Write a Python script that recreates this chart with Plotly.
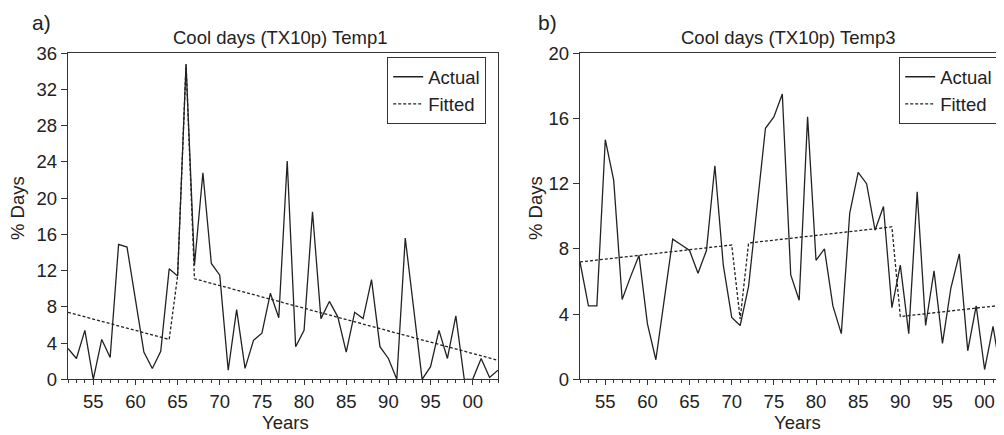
import plotly.graph_objects as go

years = list(range(1952, 2004))

# panel a) Temp1
actual_t1 = [3.4, 2.3, 5.4, 0.0, 4.4, 2.4, 14.9, 14.6, 8.8, 3.0,
             1.2, 3.1, 12.2, 11.4, 34.8, 12.6, 22.8, 12.8, 11.5, 1.0,
             7.7, 1.2, 4.3, 5.1, 9.5, 6.8, 24.1, 3.6, 5.4, 18.5,
             6.7, 8.6, 6.9, 3.0, 7.4, 6.7, 11.0, 3.6, 2.3, 0.0,
             15.6, 7.6, 0.0, 1.4, 5.4, 2.3, 7.0, 0.0, 0.0, 2.3,
             0.2, 1.0]
fitted_t1 = [7.40, 7.15, 6.90, 6.65, 6.40, 6.15, 5.90, 5.65, 5.40, 5.15,
             4.90, 4.65, 4.40, 11.40, 34.80, 11.10, 10.85, 10.60, 10.35, 10.10,
             9.85, 9.60, 9.35, 9.10, 8.85, 8.60, 8.35, 8.10, 7.85, 7.60,
             7.35, 7.10, 6.85, 6.60, 6.35, 6.10, 5.85, 5.60, 5.35, 5.10,
             4.85, 4.60, 4.35, 4.10, 3.85, 3.60, 3.35, 3.10, 2.85, 2.60,
             2.35, 2.10]

# panel b) Temp3
actual_t3 = [7.2, 4.5, 4.5, 14.7, 12.2, 4.9, 6.3, 7.6, 3.4, 1.2,
             4.9, 8.6, 8.25, 7.9, 6.5, 7.9, 13.1, 7.0, 3.8, 3.3,
             5.7, 10.6, 15.4, 16.1, 17.5, 6.4, 4.85, 16.1, 7.3, 8.0,
             4.5, 2.8, 10.2, 12.7, 12.0, 9.15, 10.6, 4.4, 7.0, 2.8,
             11.5, 3.3, 6.65, 2.2, 5.6, 7.7, 1.75, 4.5, 0.6, 3.25,
             0.1, 1.5]
fitted_t3 = [7.20, 7.26, 7.32, 7.37, 7.43, 7.49, 7.55, 7.61, 7.66, 7.72,
             7.78, 7.84, 7.90, 7.95, 8.01, 8.07, 8.13, 8.19, 8.24, 3.70,
             8.36, 8.42, 8.48, 8.53, 8.59, 8.65, 8.71, 8.77, 8.82, 8.88,
             8.94, 9.00, 9.06, 9.11, 9.17, 9.23, 9.29, 9.35, 3.85, 3.91,
             3.97, 4.02, 4.08, 4.14, 4.20, 4.26, 4.31, 4.37, 4.43, 4.49,
             4.55, 4.60]

tick_years = [1955, 1960, 1965, 1970, 1975, 1980, 1985, 1990, 1995, 2000]
tick_text = ["55", "60", "65", "70", "75", "80", "85", "90", "95", "00"]
yticks_a = [0, 4, 8, 12, 16, 20, 24, 28, 32, 36]
yticks_b = [0, 4, 8, 12, 16, 20]

# the page body has an 8px margin, so the figure is drawn 8px in from the corner
OFF = 8
W, H = 1004 - OFF, 435 - OFF
FONT = "Liberation Sans, Arial, sans-serif"
FS = 18.5
INK = "#222222"
AX = "#333333"

def px_x(p):
    return (p - OFF) / W

def px_y(p):
    return 1 - (p - OFF) / H

fig = go.Figure()

line_kw = dict(color=INK, width=1.3)
fit_kw = dict(color=INK, width=1.3, dash="3px,2px")

fig.add_trace(go.Scatter(x=years, y=actual_t1, mode="lines", name="Actual",
                         line=line_kw, xaxis="x", yaxis="y", legend="legend"))
fig.add_trace(go.Scatter(x=years, y=fitted_t1, mode="lines", name="Fitted",
                         line=fit_kw, xaxis="x", yaxis="y", legend="legend"))
fig.add_trace(go.Scatter(x=years, y=actual_t3, mode="lines", name="Actual",
                         line=line_kw, xaxis="x2", yaxis="y2", legend="legend2"))
fig.add_trace(go.Scatter(x=years, y=fitted_t3, mode="lines", name="Fitted",
                         line=fit_kw, xaxis="x2", yaxis="y2", legend="legend2"))

y_dom = [px_y(379.3), px_y(53.3)]

def xaxis(domain, rng, anchor):
    return dict(domain=domain, range=rng, anchor=anchor, automargin=False,
                showgrid=False, zeroline=False,
                showline=True, linecolor=AX, linewidth=1.3, mirror=True,
                ticks="outside", ticklen=5, tickwidth=1.2, tickcolor=AX,
                tickmode="array", tickvals=tick_years, ticktext=tick_text,
                tickfont=dict(size=FS, color=INK, family=FONT),
                minor=dict(tickmode="array", tickvals=years, ticks="outside",
                           ticklen=3, tickwidth=1.1, tickcolor=AX))

def yaxis(anchor, rng, vals, mirror):
    return dict(domain=y_dom, range=rng, anchor=anchor, automargin=False,
                showgrid=False, zeroline=False, showline=True, linecolor=AX,
                linewidth=1.3, mirror=mirror, ticks="outside", ticklen=6,
                tickwidth=1.2, tickcolor=AX, tickmode="array", tickvals=vals,
                tickfont=dict(size=FS, color=INK, family=FONT))

legend_kw = dict(bgcolor="white", bordercolor=AX, borderwidth=1.2,
                 font=dict(size=FS, color=INK, family=FONT),
                 xanchor="right", yanchor="top", yref="paper", xref="paper",
                 tracegroupgap=0, itemwidth=30)

fig.update_layout(
    width=W, height=H,
    margin=dict(l=0, r=0, t=0, b=0, autoexpand=False),
    paper_bgcolor="white", plot_bgcolor="white",
    font=dict(family=FONT, color=INK, size=FS),
    xaxis=xaxis([px_x(68), px_x(498)], [1952, 2003], "y"),
    yaxis=yaxis("x", [0, 36], yticks_a, True),
    xaxis2=xaxis([px_x(580), 1.0], [1952, 2002.3], "y2"),
    yaxis2=yaxis("x2", [0, 20], yticks_b, False),
    legend=dict(x=px_x(486), y=px_y(57), **legend_kw),
    legend2=dict(x=px_x(998), y=px_y(57), **legend_kw),
    showlegend=True,
)

notes = [
    ("a)", 41, 22, 21, 0),
    ("b)", 547, 22, 21, 0),
    ("Cool days (TX10p) Temp1", 280, 38, FS, 0),
    ("Cool days (TX10p) Temp3", 788, 38, FS, 0),
    ("Years", 285, 422, FS, 0),
    ("Years", 797, 422, FS, 0),
    ("% Days", 17, 208, FS, -90),
    ("% Days", 535, 208, FS, -90),
]
for txt, x, y, size, ang in notes:
    fig.add_annotation(text=txt, x=px_x(x), y=px_y(y), xref="paper", yref="paper",
                       showarrow=False, textangle=ang, xanchor="center", yanchor="middle",
                       font=dict(size=size, color=INK, family=FONT))

fig.write_html("out.html")
